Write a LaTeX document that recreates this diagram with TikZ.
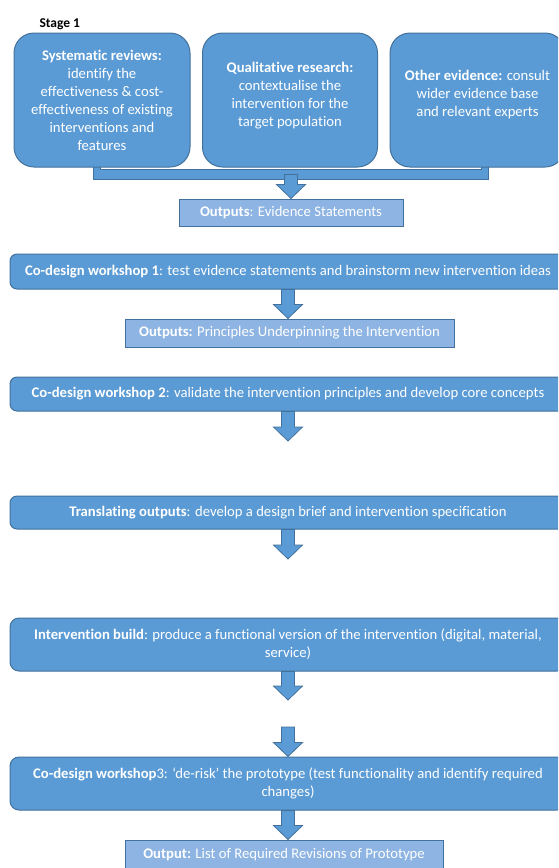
\documentclass[tikz,border=0pt]{standalone}
\usepackage{fontspec}
\setmainfont{Carlito}[Ligatures=NoCommon]
\usetikzlibrary{backgrounds,calc}
\definecolor{boxblue}{HTML}{5B9BD5}
\definecolor{boxedge}{HTML}{41719C}
\definecolor{outfill}{HTML}{8DB4E2}
\begin{document}
\begin{tikzpicture}[x=1pt,y=-1pt,
  font=\fontsize{14.67}{18}\selectfont,
  topbox/.style={draw=boxedge, line width=1pt, fill=boxblue, rounded corners=20pt,
    minimum width=176pt, minimum height=134pt, text=white, align=center, inner sep=0pt},
  widebox/.style={draw=boxedge, line width=1pt, fill=boxblue, rounded corners=7pt,
    minimum width=556pt, text=white, align=center, inner sep=0pt},
  outbox/.style={draw=boxedge, line width=1pt, fill=outfill, text=white, inner sep=0pt},
  blockarrow/.style={draw=boxedge, line width=0.8pt, fill=boxblue,
    to path={let \p1=(\tikztostart), \p2=(\tikztotarget) in
      (\x1-6.5pt,\y1) -- (\x1-6.5pt,\y2+14pt) -- (\x1-14.5pt,\y2+14pt) -- (\x1,\y2)
      -- (\x1+14.5pt,\y2+14pt) -- (\x1+6.5pt,\y2+14pt) -- (\x1+6.5pt,\y1) -- cycle}},
  bracketbar/.style={draw=boxedge, line width=0.8pt, fill=boxblue},
]
\useasboundingbox (0,0) rectangle (558,868);
\clip (0,0) rectangle (558,868);

\node[anchor=west, font=\fontsize{13.5}{16}\selectfont\bfseries] (stage) at (36,24) {Stage 1};

\node[topbox] (b1) at (102,100) {\textbf{Systematic reviews:}\\identify the\\effectiveness \& cost-\\effectiveness of existing\\interventions and\\features};
\node[topbox, minimum width=175pt] (b2) at (290,100) {\textbf{Qualitative research:}\\contextualise the\\intervention for the\\target population\\[-6pt]\mbox{}};
\node[topbox, minimum width=175pt] (b3) at (477.5,100) {\textbf{Other evidence:} consult\\wider evidence base\\and relevant experts\\[-5pt]\mbox{}};

\node[outbox, minimum width=224pt, minimum height=27pt] (out1) at (291,212.5) {\textbf{Outputs}: Evidence Statements};

\begin{scope}[on background layer]
\draw[bracketbar] ($(b1.south)+(-9,-8)$) -- ($(b1.south)+(-9,12)$) -- ($(b3.south)+(11,12)$)
  -- ($(b3.south)+(11,-8)$) -- ($(b3.south)+(4,-8)$) -- ($(b3.south)+(4,2)$)
  -- ($(b1.south)+(-2,2)$) -- ($(b1.south)+(-2,-8)$) -- cycle;
\end{scope}
\coordinate (barmid) at ($(b1.south -| out1.north)+(0,7)$);
\path[blockarrow] (barmid) to (out1.north);

\node[widebox, minimum height=35pt] (cd1) at (288,271.5) {\textbf{Co-design workshop 1}: test evidence statements and brainstorm new intervention ideas};
\node[outbox, minimum width=329pt, minimum height=28pt] (out2) at (289.5,333) {\textbf{Outputs:} Principles Underpinning the Intervention};
\path[blockarrow] (cd1.south) to (out2.north);

\node[widebox, minimum height=34pt] (cd2) at (288,394) {\textbf{Co-design workshop 2}: validate the intervention principles and develop core concepts};
\coordinate (a2end) at (288,441);
\path[blockarrow] (cd2.south) to (a2end);

\node[widebox, minimum height=33pt] (trans) at (288,512.5) {\textbf{Translating outputs}: develop a design brief and intervention specification};
\coordinate (a3end) at (288,559);
\path[blockarrow] (trans.south) to (a3end);

\node[widebox, minimum height=53pt, rounded corners=9pt] (build) at (288,644.5) {\textbf{Intervention build}: produce a functional version of the intervention (digital, material,\\service)};
\coordinate (a4end) at (288,700);
\path[blockarrow] (build.south) to (a4end);

\node[widebox, minimum height=53pt, rounded corners=9pt] (cd3) at (288,783.5) {\textbf{Co-design workshop}3: ‘de-risk’ the prototype (test functionality and identify required\\changes)};
\coordinate (a5start) at (288,727);
\path[blockarrow] (a5start) to (cd3.north);

\node[outbox, minimum width=318pt, minimum height=30pt] (out3) at (284,855) {\textbf{Output:} List of Required Revisions of Prototype};
\path[blockarrow] (cd3.south) to (out3.north);
\end{tikzpicture}
\end{document}
